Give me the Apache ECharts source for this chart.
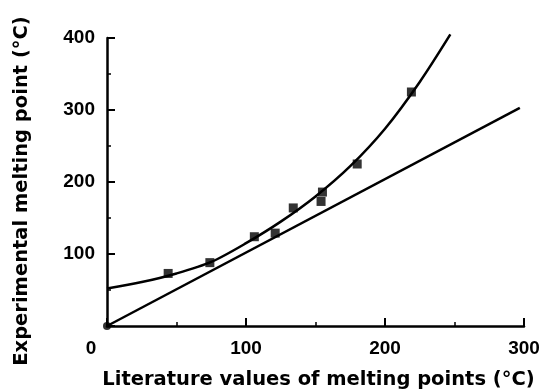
<!DOCTYPE html>
<html>
<head>
<meta charset="utf-8">
<script src="https://cdn.jsdelivr.net/npm/echarts@6/dist/echarts.min.js"></script>
<style>html,body{margin:0;padding:0;background:#fff}#c{width:544px;height:391px}</style>
</head>
<body>
<div id="c"></div>
<script>
// Measured points (literature mp vs experimental mp, °C)
const ptsX = [44, 74, 106, 121, 134, 154, 155, 180, 219];
const ptsY = [73, 88, 124, 129, 164, 173, 186, 225, 325];
// Fitted curve
const curveX = [0, 25, 50, 75, 100, 125, 150, 175, 200, 225, 247];
const curveY = [52, 61, 73, 89, 115, 145, 180, 222, 274, 339, 405];
// Reference line (y = x as drawn)
const refX = [0, 297];
const refY = [0, 303];
const originX = [0];
const originY = [0];
const xTicks = [0, 100, 200, 300];
const yTicks = [0, 100, 200, 300, 400];

const zip = (a, b) => a.map((v, i) => [v, b[i]]);
const chart = echarts.init(document.getElementById('c'), null, {renderer: 'canvas'});
const axisCommon = {
  axisLine: {show: true, lineStyle: {color: '#000', width: 2.5}},
  axisTick: {show: true, inside: true, length: 8, lineStyle: {color: '#000', width: 2}},
  minorTick: {show: true, splitNumber: 2, length: 4, lineStyle: {color: '#000', width: 1.5}},
  splitLine: {show: false}
};
const nameFont = {fontFamily: 'DejaVu Sans', fontWeight: 'bold', fontSize: 19.5, color: '#000'};
chart.setOption({
  animation: false,
  backgroundColor: '#fff',
  grid: {left: 107, right: 20, top: 38, bottom: 65, outerBoundsMode: 'none', containLabel: false},
  xAxis: Object.assign({}, axisCommon, {
    type: 'value', min: xTicks[0], max: xTicks[xTicks.length - 1], interval: 100,
    name: 'Literature values of melting points (°C)',
    nameLocation: 'middle', nameGap: 44,
    nameTextStyle: Object.assign({}, nameFont, {padding: [0, 0, 0, 6]}),
    axisLabel: {
      color: '#000', fontFamily: 'Liberation Sans', fontWeight: 'bold', fontSize: 19, margin: 13,
      formatter: v => v === 0 ? '{z|0}' : String(v),
      rich: {z: {fontFamily: 'Liberation Sans', fontWeight: 'bold', fontSize: 19, color: '#000', padding: [0, 32, 0, 0]}}
    }
  }),
  yAxis: Object.assign({}, axisCommon, {
    type: 'value', min: yTicks[0], max: yTicks[yTicks.length - 1], interval: 100,
    name: 'Experimental melting point (°C)',
    nameLocation: 'middle', nameGap: 75, nameRotate: 90,
    nameTextStyle: Object.assign({}, nameFont, {padding: [0, 18, 0, 0]}),
    axisLabel: {
      color: '#000', fontFamily: 'Liberation Sans', fontWeight: 'bold', fontSize: 19, margin: 12,
      formatter: v => v === 0 ? '' : String(v)
    }
  }),
  series: [
    {type: 'line', data: zip(refX, refY), symbol: 'none', lineStyle: {color: '#000', width: 2.5}, z: 2},
    {type: 'line', data: zip(curveX, curveY), symbol: 'none', smooth: 0.3, clip: false, lineStyle: {color: '#000', width: 2.5}, z: 2},
    {type: 'scatter', data: zip(ptsX, ptsY), symbol: 'rect', symbolSize: 9, itemStyle: {color: '#000'}, z: 3},
    {type: 'scatter', data: zip(originX, originY), symbol: 'circle', symbolSize: 8, itemStyle: {color: '#000'}, clip: false, z: 4}
  ]
});
</script>
</body>
</html>
